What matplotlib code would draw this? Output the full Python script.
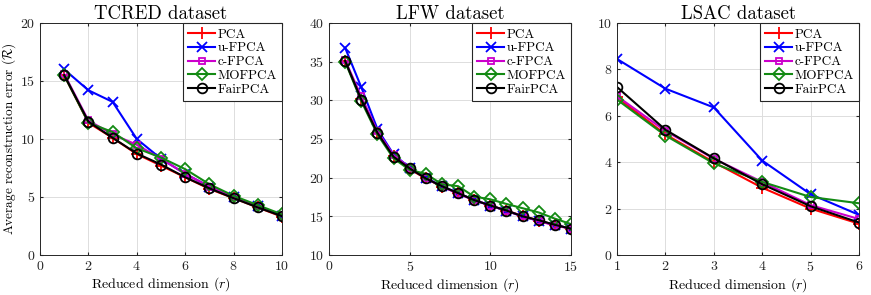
import matplotlib
matplotlib.use("Agg")
import matplotlib.pyplot as plt

plt.rcParams['font.family'] = 'cmr10'
plt.rcParams['mathtext.fontset'] = 'cm'
plt.rcParams['axes.formatter.use_mathtext'] = True

methods = ['PCA', 'u-FPCA', 'c-FPCA', 'MOFPCA', 'FairPCA']
colors = ['#ff0000', '#0000ff', '#cc00cc', '#138a13', '#000000']
markers = ['+', 'x', 's', 'D', 'o']
msizes = [8, 7, 5, 6, 7]

tcred_r = list(range(1, 11))
tcred = {
    'PCA': [15.5, 11.4, 10.1, 8.7, 7.7, 6.7, 5.7, 4.9, 4.1, 3.3],
    'u-FPCA': [16.0, 14.2, 13.2, 10.0, 8.3, 7.0, 5.9, 5.0, 4.2, 3.4],
    'c-FPCA': [15.6, 11.6, 10.4, 9.5, 8.3, 7.0, 5.9, 5.0, 4.2, 3.4],
    'MOFPCA': [15.5, 11.4, 10.6, 9.2, 8.4, 7.4, 6.1, 5.1, 4.3, 3.5],
    'FairPCA': [15.5, 11.5, 10.1, 8.75, 7.8, 6.7, 5.75, 4.9, 4.1, 3.35],
}

lfw_r = list(range(1, 16))
lfw = {
    'PCA': [35.1, 30.2, 25.8, 22.8, 21.1, 19.9, 18.85, 18.0, 17.1, 16.4, 15.75, 15.05, 14.45, 13.9, 13.4],
    'u-FPCA': [36.8, 31.7, 26.3, 23.0, 21.3, 20.0, 18.9, 18.0, 17.1, 16.4, 15.7, 15.0, 14.4, 13.9, 13.4],
    'c-FPCA': [35.2, 30.5, 26.0, 22.9, 21.3, 19.9, 18.9, 17.9, 17.1, 16.4, 15.7, 15.0, 14.4, 13.8, 13.4],
    'MOFPCA': [35.0, 29.9, 25.6, 22.5, 21.0, 20.5, 19.15, 18.9, 17.55, 17.2, 16.6, 16.05, 15.5, 14.7, 14.0],
    'FairPCA': [35.1, 30.1, 25.8, 22.7, 21.2, 19.9, 18.9, 18.0, 17.1, 16.4, 15.75, 15.0, 14.5, 13.9, 13.4],
}

lsac_r = list(range(1, 7))
lsac = {
    'PCA': [6.8, 5.2, 4.0, 2.9, 2.0, 1.35],
    'u-FPCA': [8.45, 7.17, 6.36, 4.07, 2.62, 1.73],
    'c-FPCA': [6.85, 5.35, 4.15, 3.15, 2.15, 1.55],
    'MOFPCA': [6.7, 5.15, 3.95, 3.15, 2.5, 2.23],
    'FairPCA': [7.24, 5.40, 4.17, 3.05, 2.1, 1.40],
}

panels = [
    ('TCRED dataset', tcred_r, tcred, (0, 10), (0, 20), [0, 2, 4, 6, 8, 10], [0, 5, 10, 15, 20]),
    ('LFW dataset', lfw_r, lfw, (0, 15), (10, 40), [0, 5, 10, 15], [10, 15, 20, 25, 30, 35, 40]),
    ('LSAC dataset', lsac_r, lsac, (1, 6), (0, 10), [1, 2, 3, 4, 5, 6], [0, 2, 4, 6, 8, 10]),
]

fig = plt.figure(figsize=(8.71, 2.95), dpi=100)
lefts = [40, 329, 617]
W, H = 871, 295
for i, (title, r, data, xl, yl, xt, yt) in enumerate(panels):
    ax = fig.add_axes([lefts[i] / W, (H - 255) / H, 242 / W, 232 / H])
    for m, c, mk, ms in zip(methods, colors, markers, msizes):
        ax.plot(r, data[m], color=c, marker=mk, markersize=ms, markerfacecolor='none',
                markeredgewidth=1.3, linewidth=1.5, label=m)
    ax.set_xlim(*xl)
    ax.set_ylim(*yl)
    ax.set_xticks(xt)
    ax.set_yticks(yt)
    ax.grid(True, color='#dddddd', linewidth=0.7)
    ax.set_axisbelow(True)
    ax.tick_params(direction='in', length=2, labelsize=10, colors='#262626', top=True, right=True)
    for s in ax.spines.values():
        s.set_color('#262626')
        s.set_linewidth(0.7)
    ax.set_title(title, fontsize=13.5, pad=3)
    ax.set_xlabel('Reduced dimension ($r$)', fontsize=10, labelpad=2)
    if i == 0:
        ax.set_ylabel(r'Average reconstruction error ($\bar{\mathcal{R}}$)', fontsize=9.5, labelpad=1)
    leg = ax.legend(loc='upper right', fontsize=9.5, fancybox=False, framealpha=1,
                    edgecolor='#262626', borderaxespad=0.0, handlelength=2.0,
                    handletextpad=0.2, labelspacing=0.12, borderpad=0.4)
    leg.get_frame().set_linewidth(0.8)

fig.savefig('out.png', dpi=100)
